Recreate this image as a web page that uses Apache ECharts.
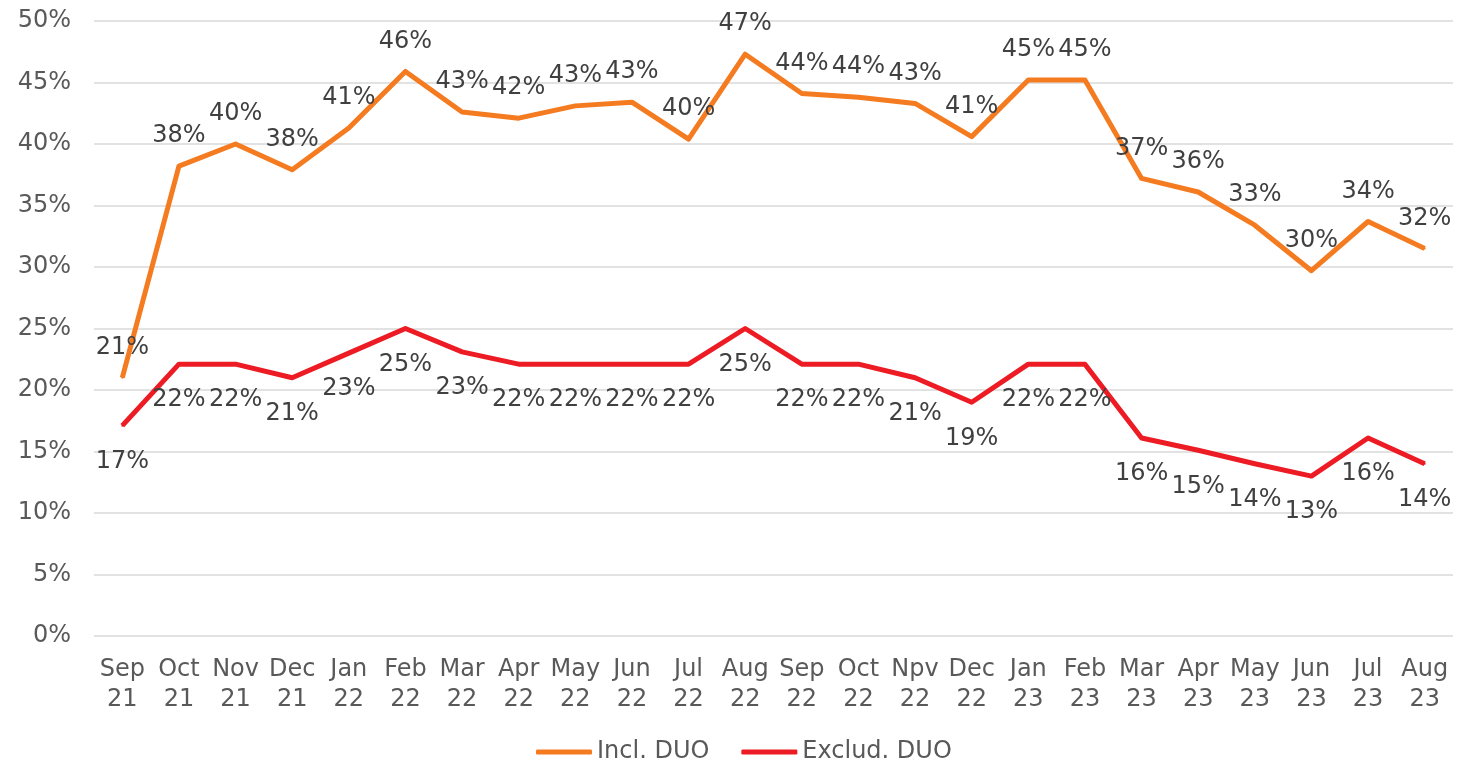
<!DOCTYPE html>
<html>
<head>
<meta charset="utf-8">
<script src="https://cdn.jsdelivr.net/npm/echarts@6/dist/echarts.min.js"></script>
<style>
  html, body { margin: 0; padding: 0; background: #fff; }
  #chart { width: 1460px; height: 761px; }
</style>
</head>
<body>
<div id="chart"></div>
<script>
// categories (month / year, shown on two lines)
const months = ['Sep\n21', 'Oct\n21', 'Nov\n21', 'Dec\n21', 'Jan\n22', 'Feb\n22', 'Mar\n22', 'Apr\n22',
  'May\n22', 'Jun\n22', 'Jul\n22', 'Aug\n22', 'Sep\n22', 'Oct\n22', 'Npv\n22', 'Dec\n22',
  'Jan\n23', 'Feb\n23', 'Mar\n23', 'Apr\n23', 'May\n23', 'Jun\n23', 'Jul\n23', 'Aug\n23']

// share in %
const inclDuo = [21.0, 38.2, 40.0, 37.9, 41.3, 45.9, 42.6, 42.1, 43.1, 43.4, 40.4, 47.3,
  44.1, 43.8, 43.3, 40.6, 45.2, 45.2, 37.2, 36.1, 33.4, 29.7, 33.7, 31.5]
const exclDuo = [17.1, 22.1, 22.1, 21.0, 23.0, 25.0, 23.1, 22.1, 22.1, 22.1, 22.1, 25.0,
  22.1, 22.1, 21.0, 19.0, 22.1, 22.1, 16.1, 15.1, 14.0, 13.0, 16.1, 14.0]

const seriesNames = ['Incl. DUO', 'Exclud. DUO']

const FONT = 'DejaVu Sans'
const FS = 24
const pct = p => Math.round(p.value) + '%'

const chart = echarts.init(document.getElementById('chart'))
chart.setOption({
  animation: false,
  grid: { left: 94, right: 7, top: 21, bottom: 125, containLabel: false },
  legend: {
    top: 735,
    left: 531,
    icon: 'roundRect',
    itemWidth: 56,
    itemHeight: 5,
    itemGap: 32,
    textStyle: { fontFamily: FONT, fontSize: FS, color: '#595959' },
    data: seriesNames
  },
  xAxis: {
    type: 'category',
    data: months,
    boundaryGap: true,
    axisLine: { show: false },
    axisTick: { show: false },
    axisLabel: { fontFamily: FONT, color: '#595959', fontSize: FS, lineHeight: 30, margin: 19, interval: 0 }
  },
  yAxis: {
    type: 'value',
    min: 0,
    max: 50,
    interval: 5,
    axisLine: { show: false },
    axisTick: { show: false },
    axisLabel: { fontFamily: FONT, color: '#595959', fontSize: FS, margin: 23, formatter: '{value}%' },
    splitLine: { lineStyle: { color: '#d9d9d9', width: 1.5 } }
  },
  series: [
    {
      name: seriesNames[0],
      type: 'line',
      data: inclDuo,
      symbol: 'circle',
      symbolSize: 2,
      lineStyle: { color: '#f47b20', width: 5, join: 'round' },
      itemStyle: { color: '#f47b20' },
      label: { show: true, position: 'top', distance: 17, formatter: pct, fontFamily: FONT, color: '#404040', fontSize: FS }
    },
    {
      name: seriesNames[1],
      type: 'line',
      data: exclDuo,
      symbol: 'circle',
      symbolSize: 2,
      lineStyle: { color: '#ed1c24', width: 5, join: 'round' },
      itemStyle: { color: '#ed1c24' },
      label: { show: true, position: 'bottom', distance: 23, formatter: pct, fontFamily: FONT, color: '#404040', fontSize: FS }
    }
  ]
})
</script>
</body>
</html>
